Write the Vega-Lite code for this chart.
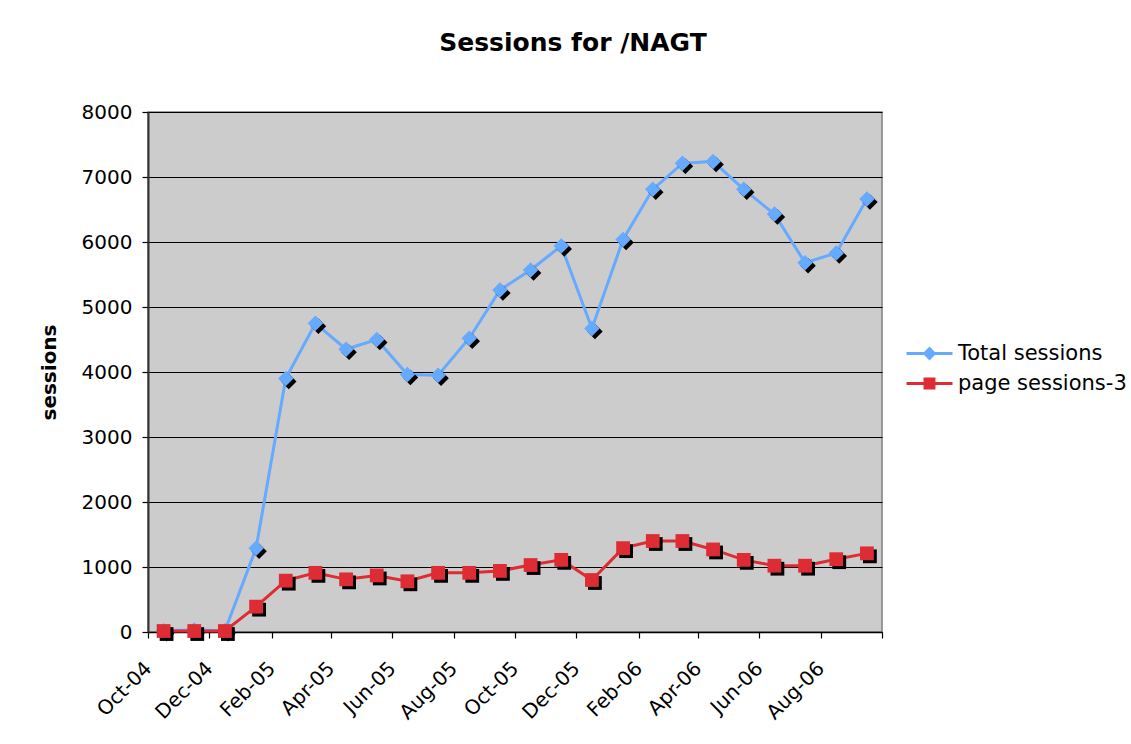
{
  "$schema": "https://vega.github.io/schema/vega-lite/v6.json",
  "width": 734,
  "height": 520,
  "autosize": {"type": "none"},
  "padding": {"left": 148, "top": 112, "right": 249, "bottom": 112},
  "background": "#ffffff",
  "config": {
    "font": "DejaVu Sans",
    "view": {"fill": "#CCCCCC", "stroke": "#808080", "strokeWidth": 1.5}
  },
  "title": {
    "text": "Sessions for /NAGT",
    "font": "DejaVu Sans",
    "fontSize": 25,
    "fontWeight": "bold",
    "color": "#000000",
    "anchor": "middle",
    "frame": "group",
    "dx": 58,
    "offset": 21,
    "baseline": "bottom"
  },
  "data": {
    "values": [
      {"month": "2004-10", "series": "Total sessions", "sessions": 20},
      {"month": "2004-11", "series": "Total sessions", "sessions": 30},
      {"month": "2004-12", "series": "Total sessions", "sessions": 20},
      {"month": "2005-01", "series": "Total sessions", "sessions": 1290},
      {"month": "2005-02", "series": "Total sessions", "sessions": 3900},
      {"month": "2005-03", "series": "Total sessions", "sessions": 4750},
      {"month": "2005-04", "series": "Total sessions", "sessions": 4350},
      {"month": "2005-05", "series": "Total sessions", "sessions": 4500},
      {"month": "2005-06", "series": "Total sessions", "sessions": 3960},
      {"month": "2005-07", "series": "Total sessions", "sessions": 3950},
      {"month": "2005-08", "series": "Total sessions", "sessions": 4520},
      {"month": "2005-09", "series": "Total sessions", "sessions": 5260},
      {"month": "2005-10", "series": "Total sessions", "sessions": 5570},
      {"month": "2005-11", "series": "Total sessions", "sessions": 5940},
      {"month": "2005-12", "series": "Total sessions", "sessions": 4670},
      {"month": "2006-01", "series": "Total sessions", "sessions": 6040},
      {"month": "2006-02", "series": "Total sessions", "sessions": 6810},
      {"month": "2006-03", "series": "Total sessions", "sessions": 7210},
      {"month": "2006-04", "series": "Total sessions", "sessions": 7240},
      {"month": "2006-05", "series": "Total sessions", "sessions": 6810},
      {"month": "2006-06", "series": "Total sessions", "sessions": 6430},
      {"month": "2006-07", "series": "Total sessions", "sessions": 5680},
      {"month": "2006-08", "series": "Total sessions", "sessions": 5830},
      {"month": "2006-09", "series": "Total sessions", "sessions": 6660},
      {"month": "2004-10", "series": "page sessions-3", "sessions": 15},
      {"month": "2004-11", "series": "page sessions-3", "sessions": 15},
      {"month": "2004-12", "series": "page sessions-3", "sessions": 15},
      {"month": "2005-01", "series": "page sessions-3", "sessions": 390},
      {"month": "2005-02", "series": "page sessions-3", "sessions": 790},
      {"month": "2005-03", "series": "page sessions-3", "sessions": 910},
      {"month": "2005-04", "series": "page sessions-3", "sessions": 810},
      {"month": "2005-05", "series": "page sessions-3", "sessions": 870},
      {"month": "2005-06", "series": "page sessions-3", "sessions": 780},
      {"month": "2005-07", "series": "page sessions-3", "sessions": 910},
      {"month": "2005-08", "series": "page sessions-3", "sessions": 910},
      {"month": "2005-09", "series": "page sessions-3", "sessions": 940},
      {"month": "2005-10", "series": "page sessions-3", "sessions": 1030},
      {"month": "2005-11", "series": "page sessions-3", "sessions": 1110},
      {"month": "2005-12", "series": "page sessions-3", "sessions": 800},
      {"month": "2006-01", "series": "page sessions-3", "sessions": 1290},
      {"month": "2006-02", "series": "page sessions-3", "sessions": 1400},
      {"month": "2006-03", "series": "page sessions-3", "sessions": 1400},
      {"month": "2006-04", "series": "page sessions-3", "sessions": 1270},
      {"month": "2006-05", "series": "page sessions-3", "sessions": 1110},
      {"month": "2006-06", "series": "page sessions-3", "sessions": 1020},
      {"month": "2006-07", "series": "page sessions-3", "sessions": 1020},
      {"month": "2006-08", "series": "page sessions-3", "sessions": 1120},
      {"month": "2006-09", "series": "page sessions-3", "sessions": 1210}
    ]
  },
  "encoding": {
    "x": {
      "field": "month",
      "type": "temporal",
      "timeUnit": "utcyearmonth",
      "bandPosition": 0.5,
      "scale": {
        "type": "utc",
        "domain": [
          {"year": 2004, "month": 10, "date": 1, "utc": true},
          {"year": 2006, "month": 10, "date": 1, "utc": true}
        ]
      },
      "axis": {
        "title": null,
        "values": [
          {"year": 2004, "month": 10, "date": 1, "utc": true},
          {"year": 2004, "month": 12, "date": 1, "utc": true},
          {"year": 2005, "month": 2, "date": 1, "utc": true},
          {"year": 2005, "month": 4, "date": 1, "utc": true},
          {"year": 2005, "month": 6, "date": 1, "utc": true},
          {"year": 2005, "month": 8, "date": 1, "utc": true},
          {"year": 2005, "month": 10, "date": 1, "utc": true},
          {"year": 2005, "month": 12, "date": 1, "utc": true},
          {"year": 2006, "month": 2, "date": 1, "utc": true},
          {"year": 2006, "month": 4, "date": 1, "utc": true},
          {"year": 2006, "month": 6, "date": 1, "utc": true},
          {"year": 2006, "month": 8, "date": 1, "utc": true},
          {"year": 2006, "month": 10, "date": 1, "utc": true}
        ],
        "labelExpr": "utcyear(datum.value) == 2006 && utcmonth(datum.value) == 9 ? '' : utcFormat(datum.value, '%b-%y')",
        "labelAngle": -45,
        "labelAlign": "right",
        "labelBaseline": "middle",
        "labelFont": "DejaVu Sans",
        "labelFontSize": 20,
        "labelColor": "#000000",
        "labelPadding": 27,
        "labelOverlap": false,
        "labelFlush": false,
        "labelBound": false,
        "grid": false,
        "domainColor": "#000000",
        "domainWidth": 1.5,
        "tickColor": "#000000",
        "tickSize": 6,
        "tickWidth": 1.2
      }
    },
    "y": {
      "field": "sessions",
      "type": "quantitative",
      "scale": {"domain": [0, 8000], "nice": false},
      "axis": {
        "title": "sessions",
        "titleFont": "DejaVu Sans",
        "titleFontSize": 20,
        "titleFontWeight": "bold",
        "titleColor": "#000000",
        "titlePadding": 22,
        "values": [0, 1000, 2000, 3000, 4000, 5000, 6000, 7000, 8000],
        "format": "d",
        "labelFont": "DejaVu Sans",
        "labelFontSize": 20,
        "labelColor": "#000000",
        "labelPadding": 10,
        "grid": true,
        "gridColor": "#000000",
        "gridWidth": 1,
        "domainColor": "#333333",
        "domainWidth": 2,
        "tickColor": "#000000",
        "tickSize": 6,
        "tickWidth": 1.2
      }
    }
  },
  "layer": [
    {
      "transform": [{"filter": "datum.series == 'Total sessions'"}],
      "mark": {"type": "line", "color": "#66AAFF", "strokeWidth": 3}
    },
    {
      "transform": [{"filter": "datum.series == 'Total sessions'"}],
      "mark": {"type": "point", "shape": "diamond", "filled": true, "color": "#000000", "opacity": 1, "size": 240, "xOffset": 3, "yOffset": 3}
    },
    {
      "transform": [{"filter": "datum.series == 'Total sessions'"}],
      "mark": {"type": "point", "shape": "diamond", "filled": true, "color": "#66AAFF", "opacity": 1, "size": 240}
    },
    {
      "transform": [{"filter": "datum.series == 'page sessions-3'"}],
      "mark": {"type": "line", "color": "#DD2C34", "strokeWidth": 3}
    },
    {
      "transform": [{"filter": "datum.series == 'page sessions-3'"}],
      "mark": {"type": "point", "shape": "square", "filled": true, "color": "#000000", "opacity": 1, "size": 190, "xOffset": 3, "yOffset": 3}
    },
    {
      "transform": [{"filter": "datum.series == 'page sessions-3'"}],
      "mark": {"type": "point", "shape": "square", "filled": true, "color": "#DD2C34", "opacity": 1, "size": 190}
    },
    {
      "transform": [{"filter": "false"}],
      "mark": {"type": "point", "filled": true, "opacity": 1, "size": 529, "strokeWidth": 0},
      "encoding": {
        "color": {
          "field": "series",
          "type": "nominal",
          "scale": {"domain": ["Total sessions", "page sessions-3"], "range": ["#66AAFF", "#DD2C34"]},
          "legend": {"orient": "none", "legendX": 770, "legendY": 230, "title": null, "padding": 0, "labelFont": "DejaVu Sans", "labelFontSize": 21, "labelColor": "#000000", "labelOffset": 17, "labelLimit": 0, "symbolSize": 529, "symbolStrokeWidth": 0, "symbolOpacity": 1, "rowPadding": 8}
        },
        "shape": {
          "field": "series",
          "type": "nominal",
          "scale": {"domain": ["Total sessions", "page sessions-3"], "range": ["M-2,-0.13L2,-0.13L2,0.13L-2,0.13Z M0,-0.6L0.6,0L0,0.6L-0.6,0Z", "M-2,-0.13L2,-0.13L2,0.13L-2,0.13Z M-0.52,-0.52L0.52,-0.52L0.52,0.52L-0.52,0.52Z"]},
          "legend": {"orient": "none", "legendX": 770, "legendY": 230, "title": null, "padding": 0, "labelFont": "DejaVu Sans", "labelFontSize": 21, "labelColor": "#000000", "labelOffset": 17, "labelLimit": 0, "symbolSize": 529, "symbolStrokeWidth": 0, "symbolOpacity": 1, "rowPadding": 8}
        }
      }
    }
  ]
}
